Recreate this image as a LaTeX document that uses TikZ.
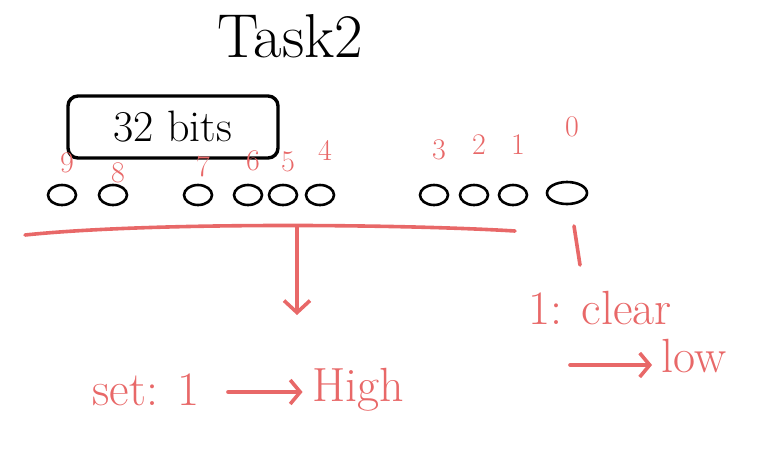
\documentclass[tikz,border=0pt]{standalone}
\usetikzlibrary{positioning,shapes.geometric,arrows.meta}
\definecolor{penred}{RGB}{232,104,104}
\tikzset{
  redpen/.style={draw=penred,line width=3.6pt,line cap=round},
  bitcell/.style={draw,ellipse,line width=2.6pt,minimum width=28pt,minimum height=20pt,inner sep=0pt},
  bitlabel/.style={text=penred,font=\fontsize{30}{30}\selectfont},
  redtext/.style={text=penred,font=\fontsize{48}{48}\selectfont},
}
\begin{document}
\begin{tikzpicture}[x=1pt,y=-1pt]
  \useasboundingbox (0,0) rectangle (767,467);
  \node[font=\fontsize{62}{62}\selectfont] (title) at (290,36) {Task2};
  \node[draw,line width=3.4pt,rounded corners=10pt,minimum width=210pt,minimum height=62pt,
        font=\fontsize{44}{44}\selectfont] (word) at (173,127) {32 bits};

  % bits and their numbers
  \foreach \x/\y/\n in {62/163/9,113/173/8,198/167/7,248/161/6,283/162/5,320/150/4,434/150/3,474/145/2,513/145/1}{
    \node[bitcell] (b\n) at (\x,195) {};
    \node[bitlabel] (l\n) at (\x+5,\y) {\n};
  }
  \node[bitcell,minimum width=40pt,minimum height=22pt] (b0) at (567,193) {};
  \node[bitlabel] (l0) at (572,127) {0};

  % red marks
  \coordinate (uL) at (25,235);
  \coordinate (uM) at (297,226);
  \coordinate (uR) at (515,231);
  \draw[redpen] (uL) .. controls (150,222) and (400,224) .. (uR);
  \coordinate (setTop) at (297,315);
  \draw[redpen,-{Straight Barb[length=12pt,width=26pt]}] (uM) -- (setTop);
  \coordinate (c0) at (574,226);
  \coordinate (clrTop) at (580,265);
  \draw[redpen] (c0) -- (clrTop);

  \node[redtext] (clr) at (600,308) {1: clear};
  \node[redtext] (low) at (694,356) {low};
  \coordinate (lowArr) at (570,365);
  \draw[redpen,-{Straight Barb[length=10pt,width=24pt]}] (lowArr) -- ([xshift=-6pt]lowArr -| low.west);

  \node[redtext] (set) at (146,390) {set: 1};
  \node[redtext] (high) at (358,390) {High};
  \coordinate (setArr) at (228,392);
  \draw[redpen,-{Straight Barb[length=10pt,width=24pt]}] (setArr) -- ([xshift=-6pt]setArr -| high.west);
\end{tikzpicture}
\end{document}
